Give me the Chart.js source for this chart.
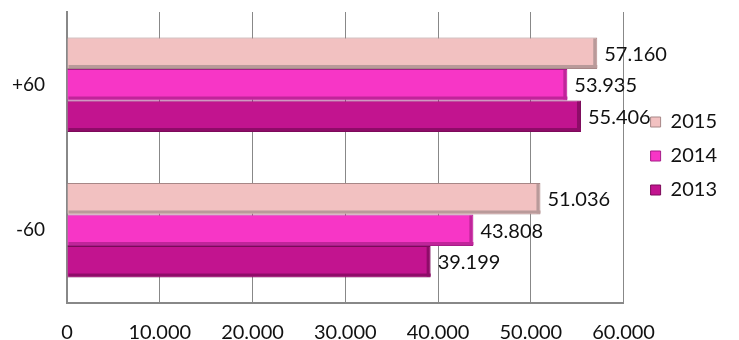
<!DOCTYPE html>
<html>
<head>
<meta charset="utf-8">
<script src="https://cdn.jsdelivr.net/npm/chart.js@4.4.1/dist/chart.umd.min.js"></script>
<style>
  body { margin: 0; background: #fff; }
  #wrap { width: 739px; height: 340px; }
</style>
</head>
<body>
<div id="wrap"><canvas id="ageChart" width="739" height="340"></canvas></div>
<script>
const categories = ['+60', '-60'];
const years = ['2015', '2014', '2013'];
const values2015 = [57160, 51036];
const values2014 = [53935, 43808];
const values2013 = [55406, 39199];
const xMin = 0;
const xMax = 60000;
const xStep = 10000;

const fills = ['#f2c1c1', '#f736c6', '#c2148f'];
const edges = ['#a78787', '#a61d88', '#7c0a5a'];
const shades = ['#b99a9a', '#c0259a', '#8e0c68'];

const FONT = 'Lato, "Open Sans", sans-serif';

// 1.234 style thousands
const fmt = n => String(n).replace(/\B(?=(\d{3})+(?!\d))/g, '.');

const ctx = document.getElementById('ageChart').getContext('2d');

const bevel = {
  id: 'bevel',
  afterDatasetsDraw(chart) {
    const c = chart.ctx;
    chart.data.datasets.forEach((ds, i) => {
      chart.getDatasetMeta(i).data.forEach(bar => {
        const p = bar.getProps(['x', 'y', 'base', 'height'], true);
        const top = p.y - p.height / 2;
        c.save();
        c.fillStyle = shades[i];
        c.fillRect(p.base + 1, top + p.height - 4, p.x - p.base - 1, 3);
        c.fillRect(p.x - 4, top + 1, 3, p.height - 2);
        c.restore();
      });
    });
  }
};

const valueLabels = {
  id: 'valueLabels',
  afterDatasetsDraw(chart) {
    const c = chart.ctx;
    c.save();
    c.font = '20px ' + FONT;
    c.fillStyle = '#111';
    c.textAlign = 'left';
    c.textBaseline = 'middle';
    chart.data.datasets.forEach((ds, i) => {
      chart.getDatasetMeta(i).data.forEach((bar, j) => {
        c.fillText(fmt(ds.data[j]), bar.x + 7, bar.y + 1);
      });
    });
    c.restore();
  }
};

const shiftLegend = {
  id: 'shiftLegend',
  afterLayout(chart) {
    chart.legend.left += 13;
    chart.legend.right += 13;
    chart.legend.top -= 20;
    chart.legend.bottom -= 20;
  }
};

new Chart(ctx, {
  type: 'bar',
  data: {
    labels: categories,
    datasets: [
      { label: years[0], data: values2015, backgroundColor: fills[0], borderColor: edges[0], borderWidth: 1 },
      { label: years[1], data: values2014, backgroundColor: fills[1], borderColor: edges[1], borderWidth: 1 },
      { label: years[2], data: values2013, backgroundColor: fills[2], borderColor: edges[2], borderWidth: 1 }
    ]
  },
  options: {
    indexAxis: 'y',
    responsive: false,
    animation: false,
    devicePixelRatio: 1,
    categoryPercentage: 0.65,
    barPercentage: 1.0,
    layout: { padding: { top: 12, right: 25, left: 0, bottom: 0 } },
    scales: {
      x: {
        min: xMin,
        max: xMax,
        ticks: {
          stepSize: xStep,
          callback: v => fmt(v),
          color: '#111',
          font: { family: FONT, size: 20 },
          padding: 18
        },
        grid: { color: '#888', lineWidth: 1, drawTicks: false },
        border: { color: '#888', width: 2 },
        afterFit: s => { s.height = 37; }
      },
      y: {
        ticks: {
          color: '#111',
          font: { family: FONT, size: 19 },
          padding: 22
        },
        grid: { display: false, drawTicks: false },
        border: { color: '#888', width: 2 },
        afterFit: s => { s.width = 67; s.paddingTop = 0; s.paddingBottom = 0; }
      }
    },
    plugins: {
      legend: {
        position: 'right',
        labels: {
          boxWidth: 10,
          boxHeight: 10,
          padding: 14,
          color: '#111',
          font: { family: FONT, size: 20 }
        }
      },
      tooltip: { enabled: false }
    }
  },
  plugins: [bevel, valueLabels, shiftLegend]
});
</script>
</body>
</html>
